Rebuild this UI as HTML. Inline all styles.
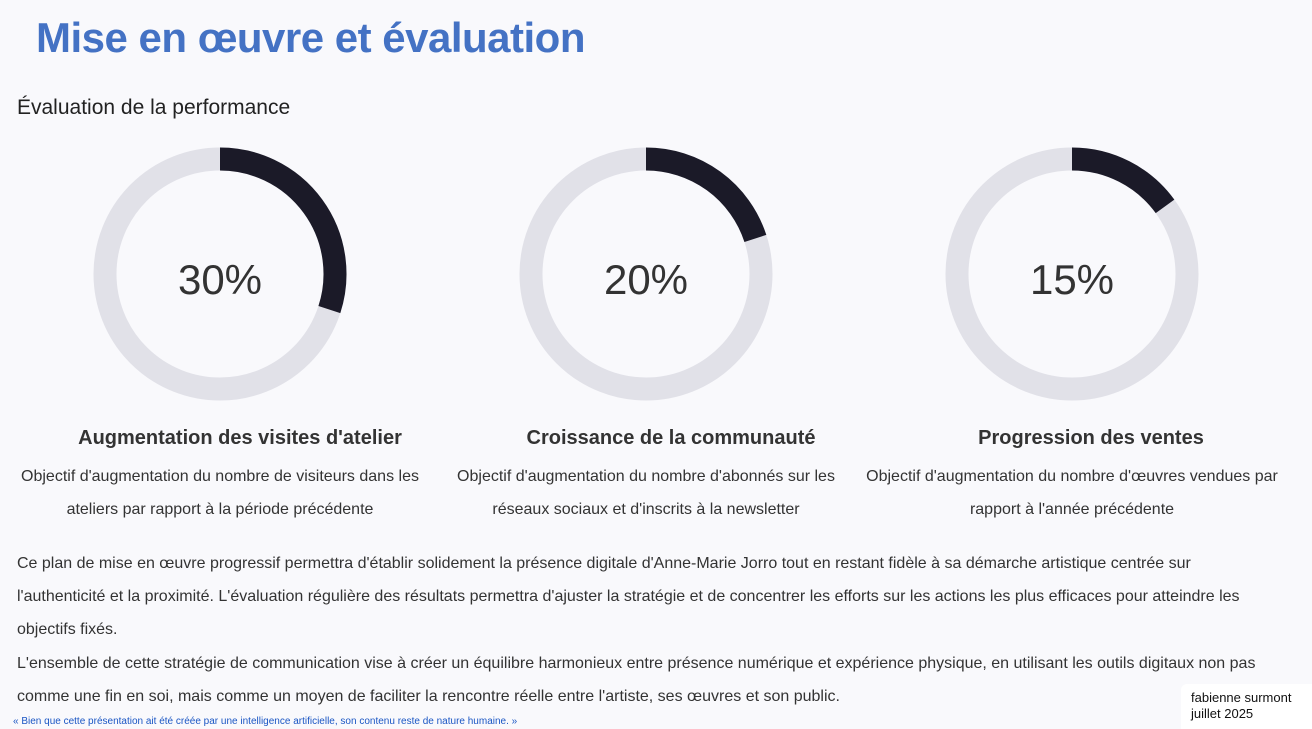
<!DOCTYPE html>
<html><head><meta charset="utf-8"><style>
body{margin:0;width:1312px;height:729px;background:#f9f9fc;font-family:"Liberation Sans",sans-serif;position:relative;overflow:hidden;color:#333}
.abs{position:absolute}
h1{position:absolute;left:36px;top:14px;margin:0;font-size:42px;font-weight:bold;color:#4472c4;letter-spacing:-0.5px}
.sub{left:17px;top:96px;font-size:21px;color:#222}
.kt{font-size:20px;font-weight:bold;color:#333;text-align:center;width:420px}
.kd{font-size:16px;color:#333;text-align:center;width:420px;line-height:33px}
.body{left:17px;width:1260px;font-size:16px;line-height:33px;color:#333}
</style></head><body>
<h1>Mise en œuvre et évaluation</h1>
<div class="abs sub">Évaluation de la performance</div>
<svg class="abs" style="left:0;top:0" width="1312" height="420" id="donuts"></svg>
<div class="abs kt" style="left:30px;top:427px">Augmentation des visites d'atelier</div>
<div class="abs kd" style="left:10px;top:460px">Objectif d'augmentation du nombre de visiteurs dans les ateliers par rapport à la période précédente</div>
<div class="abs kt" style="left:461px;top:427px">Croissance de la communauté</div>
<div class="abs kd" style="left:436px;top:460px">Objectif d'augmentation du nombre d'abonnés sur les réseaux sociaux et d'inscrits à la newsletter</div>
<div class="abs kt" style="left:881px;top:427px">Progression des ventes</div>
<div class="abs kd" style="left:862px;top:460px">Objectif d'augmentation du nombre d'œuvres vendues par rapport à l'année précédente</div>
<div class="abs body" style="top:547px">Ce plan de mise en œuvre progressif permettra d'établir solidement la présence digitale d'Anne-Marie Jorro tout en restant fidèle à sa démarche artistique centrée sur l'authenticité et la proximité. L'évaluation régulière des résultats permettra d'ajuster la stratégie et de concentrer les efforts sur les actions les plus efficaces pour atteindre les objectifs fixés.</div>
<div class="abs body" style="top:647px">L'ensemble de cette stratégie de communication vise à créer un équilibre harmonieux entre présence numérique et expérience physique, en utilisant les outils digitaux non pas comme une fin en soi, mais comme un moyen de faciliter la rencontre réelle entre l'artiste, ses œuvres et son public.</div>
<div class="abs" style="left:13px;top:716px;font-size:10px;color:#1a56c4">« Bien que cette présentation ait été créée par une intelligence artificielle, son contenu reste de nature humaine. »</div>
<div class="abs" style="left:1181px;top:684px;width:131px;height:45px;background:#fff;border-radius:6px 0 0 0;font-size:13px;line-height:16px;color:#111;padding:6px 0 0 10px;box-sizing:border-box">fabienne surmont<br>juillet 2025</div>
<script>
const labels=["30%","20%","15%"];
const values=[30,20,15];
const names=["visits","community","sales"];
const svg=document.getElementById('donuts');
const NS="http://www.w3.org/2000/svg";
const cx=[220,646,1072],cy=274,r=115,w=23;
values.forEach((v,i)=>{
 const bg=document.createElementNS(NS,'circle');
 bg.setAttribute('cx',cx[i]);bg.setAttribute('cy',cy);bg.setAttribute('r',r);
 bg.setAttribute('fill','none');bg.setAttribute('stroke','#e1e1e8');bg.setAttribute('stroke-width',w);
 
 
 svg.appendChild(bg);
 const a=v/100*2*Math.PI;
 const x1=cx[i],y1=cy-r,x2=cx[i]+r*Math.sin(a),y2=cy-r*Math.cos(a);
 const p=document.createElementNS(NS,'path');
 p.setAttribute('d',`M${x1},${y1} A${r},${r} 0 ${v>50?1:0} 1 ${x2},${y2}`);
 p.setAttribute('fill','none');p.setAttribute('stroke','#1b1a28');p.setAttribute('stroke-width',w);
 
 
 svg.appendChild(p);
 const t=document.createElementNS(NS,'text');
 t.setAttribute('x',cx[i]);t.setAttribute('y',cy+20);t.setAttribute('text-anchor','middle');
 t.setAttribute('font-size','42');t.setAttribute('fill','#333');t.setAttribute('font-family','Liberation Sans, sans-serif');
 t.textContent=labels[i];
 
 
 svg.appendChild(t);
});
</script>
</body></html>
